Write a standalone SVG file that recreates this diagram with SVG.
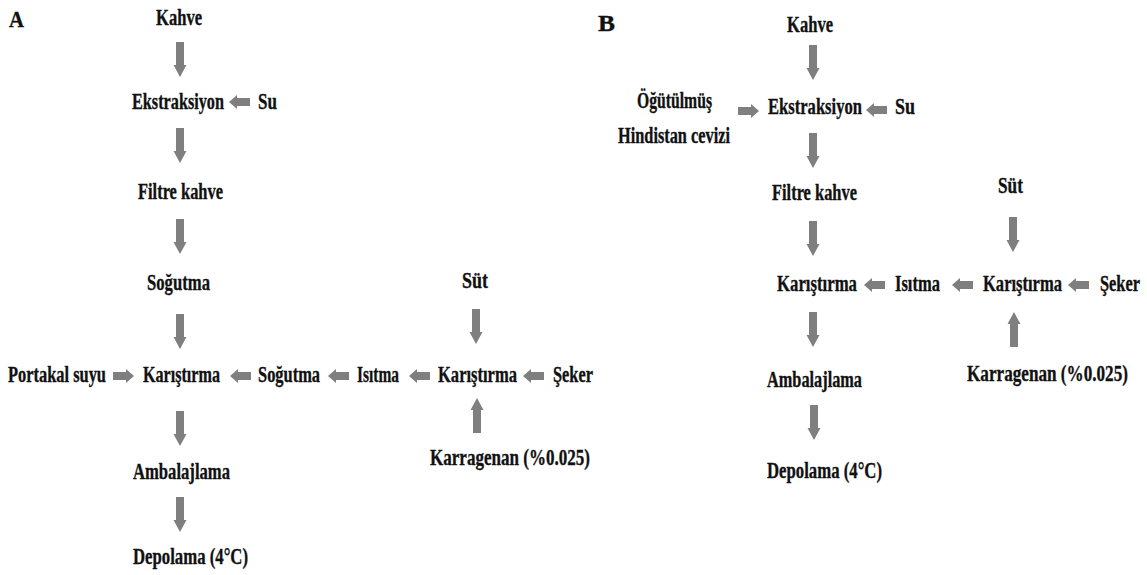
<svg xmlns="http://www.w3.org/2000/svg" xmlns:xlink="http://www.w3.org/1999/xlink" width="1147" height="575" viewBox="0 0 1147 575">
<style>
text{font-family:"Liberation Serif","Times New Roman","DejaVu Serif",serif;font-weight:bold;font-size:24px;fill:#111;stroke:#111;stroke-width:0.35;}
.lbl{font-size:24px;}
.arr{fill:#7f7f7f;}
</style>
<defs>
<path id="ad" class="arr" d="M-4,0 H4 V23 H6.5 L0,35 L-6.5,23 H-4 Z"/>
<path id="al" class="arr" d="M0,0 L8,-7 V-4 H21 V4 H8 V7 Z"/>
</defs>
<rect width="1147" height="575" fill="#fff"/>
<g id="connectors">
<use xlink:href="#ad" transform="translate(180,42)"/>
<use xlink:href="#ad" transform="translate(180,128)"/>
<use xlink:href="#ad" transform="translate(180,219)"/>
<use xlink:href="#ad" transform="translate(180,314)"/>
<use xlink:href="#ad" transform="translate(180,411)"/>
<use xlink:href="#ad" transform="translate(180,497)"/>
<use xlink:href="#ad" transform="translate(476,309)"/>
<use xlink:href="#ad" transform="translate(477,433) rotate(180)"/>
<use xlink:href="#al" transform="translate(229,102)"/>
<use xlink:href="#al" transform="translate(134,376) scale(-1,1)"/>
<use xlink:href="#al" transform="translate(230,376)"/>
<use xlink:href="#al" transform="translate(328,376)"/>
<use xlink:href="#al" transform="translate(409,376)"/>
<use xlink:href="#al" transform="translate(523,376)"/>
<use xlink:href="#ad" transform="translate(813,45)"/>
<use xlink:href="#ad" transform="translate(813,133)"/>
<use xlink:href="#ad" transform="translate(813,221)"/>
<use xlink:href="#ad" transform="translate(813,312)"/>
<use xlink:href="#ad" transform="translate(814,405)"/>
<use xlink:href="#ad" transform="translate(1013,217)"/>
<use xlink:href="#ad" transform="translate(1014,347) rotate(180)"/>
<use xlink:href="#al" transform="translate(759,111) scale(-1,1)"/>
<use xlink:href="#al" transform="translate(866,110)"/>
<use xlink:href="#al" transform="translate(864,285)"/>
<use xlink:href="#al" transform="translate(952,285)"/>
<use xlink:href="#al" transform="translate(1068,285)"/>
</g>
<g id="labelA"><text class="lbl" x="9" y="27" textLength="15" lengthAdjust="spacingAndGlyphs">A</text></g>
<g id="a-kahve"><text transform="translate(156,25) scale(0.69,1)" textLength="66.7" lengthAdjust="spacingAndGlyphs">Kahve</text></g>
<g id="a-ekstraksiyon"><text transform="translate(132,109) scale(0.69,1)" textLength="133.3" lengthAdjust="spacingAndGlyphs">Ekstraksiyon</text></g>
<g id="a-su"><text transform="translate(258,109) scale(0.69,1)" textLength="27.5" lengthAdjust="spacingAndGlyphs">Su</text></g>
<g id="a-filtre"><text transform="translate(138,199) scale(0.69,1)" textLength="123.2" lengthAdjust="spacingAndGlyphs">Filtre kahve</text></g>
<g id="a-sogutma1"><text transform="translate(147,290) scale(0.69,1)" textLength="91.3" lengthAdjust="spacingAndGlyphs">Soğutma</text></g>
<g id="a-sut"><text transform="translate(462,288) scale(0.69,1)" textLength="37.7" lengthAdjust="spacingAndGlyphs">Süt</text></g>
<g id="a-portakal"><text transform="translate(8,382) scale(0.69,1)" textLength="142" lengthAdjust="spacingAndGlyphs">Portakal suyu</text></g>
<g id="a-karistirma1"><text transform="translate(143,382) scale(0.69,1)" textLength="111.6" lengthAdjust="spacingAndGlyphs">Karıştırma</text></g>
<g id="a-sogutma2"><text transform="translate(258,382) scale(0.69,1)" textLength="89.9" lengthAdjust="spacingAndGlyphs">Soğutma</text></g>
<g id="a-isitma"><text transform="translate(357,382) scale(0.69,1)" textLength="60.9" lengthAdjust="spacingAndGlyphs">Isıtma</text></g>
<g id="a-karistirma2"><text transform="translate(438,382) scale(0.69,1)" textLength="114.5" lengthAdjust="spacingAndGlyphs">Karıştırma</text></g>
<g id="a-seker"><text transform="translate(553,382) scale(0.69,1)" textLength="58" lengthAdjust="spacingAndGlyphs">Şeker</text></g>
<g id="a-karragenan"><text transform="translate(430,465) scale(0.69,1)" textLength="231.9" lengthAdjust="spacingAndGlyphs">Karragenan (%0.025)</text></g>
<g id="a-ambalajlama"><text transform="translate(133,479) scale(0.69,1)" textLength="140.6" lengthAdjust="spacingAndGlyphs">Ambalajlama</text></g>
<g id="a-depolama"><text transform="translate(133,564) scale(0.69,1)" textLength="166.7" lengthAdjust="spacingAndGlyphs">Depolama (4°C)</text></g>
<g id="labelB"><text class="lbl" x="598" y="31" textLength="17" lengthAdjust="spacingAndGlyphs">B</text></g>
<g id="b-kahve"><text transform="translate(787,32) scale(0.69,1)" textLength="66.7" lengthAdjust="spacingAndGlyphs">Kahve</text></g>
<g id="b-hindistan"><text transform="translate(637,108) scale(0.69,1)" textLength="108.7" lengthAdjust="spacingAndGlyphs">Öğütülmüş</text><text transform="translate(618,143) scale(0.69,1)" textLength="162.3" lengthAdjust="spacingAndGlyphs">Hindistan cevizi</text></g>
<g id="b-ekstraksiyon"><text transform="translate(768,114) scale(0.69,1)" textLength="136.2" lengthAdjust="spacingAndGlyphs">Ekstraksiyon</text></g>
<g id="b-su"><text transform="translate(895,114) scale(0.69,1)" textLength="29" lengthAdjust="spacingAndGlyphs">Su</text></g>
<g id="b-filtre"><text transform="translate(772,200) scale(0.69,1)" textLength="123.2" lengthAdjust="spacingAndGlyphs">Filtre kahve</text></g>
<g id="b-sut"><text transform="translate(998,193) scale(0.69,1)" textLength="36.2" lengthAdjust="spacingAndGlyphs">Süt</text></g>
<g id="b-karistirma1"><text transform="translate(777,291) scale(0.69,1)" textLength="115.9" lengthAdjust="spacingAndGlyphs">Karıştırma</text></g>
<g id="b-isitma"><text transform="translate(895,291) scale(0.69,1)" textLength="65.2" lengthAdjust="spacingAndGlyphs">Isıtma</text></g>
<g id="b-karistirma2"><text transform="translate(983,291) scale(0.69,1)" textLength="114.5" lengthAdjust="spacingAndGlyphs">Karıştırma</text></g>
<g id="b-seker"><text transform="translate(1100,291) scale(0.69,1)" textLength="58" lengthAdjust="spacingAndGlyphs">Şeker</text></g>
<g id="b-karragenan"><text transform="translate(967,381) scale(0.69,1)" textLength="233.3" lengthAdjust="spacingAndGlyphs">Karragenan (%0.025)</text></g>
<g id="b-ambalajlama"><text transform="translate(767,387) scale(0.69,1)" textLength="137.7" lengthAdjust="spacingAndGlyphs">Ambalajlama</text></g>
<g id="b-depolama"><text transform="translate(767,478) scale(0.69,1)" textLength="166.7" lengthAdjust="spacingAndGlyphs">Depolama (4°C)</text></g>
</svg>
